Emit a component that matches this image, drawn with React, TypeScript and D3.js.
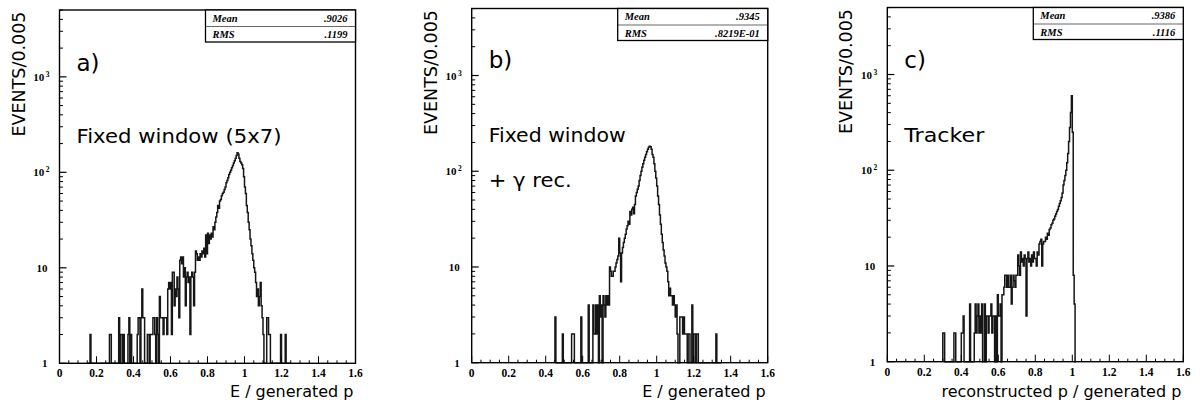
import React from "react";
import * as d3 from "d3";

const BIN = 0.005;
const xTickValues = [0, 0.2, 0.4, 0.6, 0.8, 1, 1.2, 1.4, 1.6];
const xTickLabels = ["0", "0.2", "0.4", "0.6", "0.8", "1", "1.2", "1.4", "1.6"];
const yDecades = [1, 10, 100, 1000];
const yTickBase = ["1", "10", "10", "10"];
const yTickSup = ["", "", "2", "3"];
const yMax = 5012;

// Panel a: E / generated p, fixed window (5x7), bins of 0.005 starting at 0.15
const aStart = 0.15;
const aCounts = [
  0, 0, 0, 2, 0, 0, 0, 0, 0, 0, 0, 0, 0, 0, 0, 0, 0, 0, 0, 0,
  0, 0, 0, 0, 2, 2, 0, 0, 0, 0, 0, 0, 0, 0, 3, 0, 2, 2, 0, 2,
  0, 0, 0, 0, 2, 3, 0, 2, 0, 0, 0, 0, 0, 0, 2, 3, 3, 0, 3, 6,
  3, 3, 0, 0, 0, 2, 2, 0, 2, 2, 2, 3, 3, 2, 0, 3, 2, 0, 5, 3,
  3, 3, 2, 3, 3, 3, 2, 6, 7, 6, 7, 2, 9, 9, 4, 6, 5, 8, 6, 3,
  12, 13, 11, 13, 8, 10, 4, 8, 9, 7, 8, 2, 8, 9, 8, 4, 9, 15, 14, 12,
  13, 12, 14, 13, 15, 14, 16, 13, 22, 14, 23, 18, 22, 20, 23, 21, 27, 25, 30, 34,
  38, 45, 42, 50, 52, 57, 60, 62, 66, 70, 78, 82, 88, 95, 100, 105, 112, 118, 125, 132,
  140, 150, 160, 155, 140, 130, 125, 120, 110, 90, 70, 60, 45, 38, 30, 25, 20, 17, 14, 12,
  10, 9, 7, 5, 6, 4, 5, 7, 4, 3, 2, 0, 1, 1, 3, 3, 2, 2, 0, 0,
  0, 0, 0, 0, 0, 0, 0, 0, 0, 2, 0, 0, 0, 0, 2, 0, 0, 0, 0, 0,
];

// Panel b: fixed window + gamma reconstruction, starting at 0.45
const bStart = 0.45;
const bCounts = [
  3, 0, 0, 0, 0, 0, 0, 0, 2, 0, 0, 0, 0, 0, 0, 0, 0, 0, 2, 2,
  2, 0, 0, 0, 0, 0, 0, 0, 3, 0, 0, 0, 0, 0, 0, 0, 4, 0, 0, 0,
  0, 4, 2, 2, 4, 2, 4, 0, 5, 3, 4, 0, 5, 4, 3, 5, 4, 5, 4, 10,
  9, 8, 8, 9, 9, 10, 11, 12, 13, 20, 14, 7, 14, 16, 18, 20, 22, 25, 27, 30,
  28, 38, 35, 40, 42, 36, 45, 55, 60, 65, 70, 80, 90, 100, 110, 120, 130, 140, 150, 160,
  170, 178, 182, 180, 170, 150, 140, 120, 100, 85, 70, 55, 45, 35, 28, 22, 18, 15, 13, 11,
  10, 9, 7, 5, 6, 5, 5, 4, 5, 4, 3, 4, 2, 1, 0, 3, 3, 3, 2, 3,
  2, 2, 2, 0, 2, 2, 0, 0, 4, 0, 2, 2, 0, 2, 2, 0, 0, 0, 0, 0,
  0, 0, 0, 0, 0, 0, 0, 0, 0, 0, 0, 0, 0, 0, 2, 0, 0, 0, 0, 0,
];

// Panel c: tracker, reconstructed p / generated p, starting at 0.30
const cStart = 0.3;
const cCounts = [
  2, 2, 0, 0, 0, 0, 0, 0, 0, 0, 0, 0, 2, 2, 0, 0, 0, 0, 0, 0,
  2, 2, 3, 0, 0, 0, 0, 0, 0, 4, 0, 0, 0, 0, 2, 4, 2, 3, 4, 2,
  3, 2, 4, 0, 0, 4, 0, 3, 3, 2, 3, 3, 4, 2, 3, 3, 0, 3, 0, 5,
  3, 3, 4, 0, 5, 5, 6, 8, 8, 6, 8, 6, 6, 8, 4, 6, 8, 7, 6, 8,
  8, 13, 10, 8, 14, 11, 12, 10, 13, 12, 3, 12, 14, 11, 12, 10, 13, 11, 14, 12,
  12, 10, 14, 13, 17, 18, 19, 10, 17, 18, 18, 20, 19, 22, 21, 24, 25, 27, 28, 30,
  31, 33, 35, 37, 39, 42, 45, 48, 52, 58, 70, 78, 88, 100, 120, 150, 200, 280, 400, 600,
  250, 8, 4, 0,
];

const panelStarts = [aStart, bStart, cStart];
const panelCounts = [aCounts, bCounts, cCounts];
const panelTags = ["a)", "b)", "c)"];
const panelNotes = [["Fixed window (5x7)"], ["Fixed window", "+ \u03b3 rec."], ["Tracker"]];
const xAxisTitles = ["E / generated p", "E / generated p", "reconstructed p / generated p"];
const yAxisTitle = "EVENTS/0.005";
const statMeans = [".9026", ".9345", ".9386"];
const statRms = [".1199", ".8219E-01", ".1116"];

// layout
const layouts = [
  { x0: 59.5, top: 10, bottom: 363.3, noteW: [205], tagY: 71 },
  { x0: 471.7, top: 8.5, bottom: 362.7, noteW: [137, 83], tagY: 68 },
  { x0: 887.3, top: 7.5, bottom: 361.7, noteW: [80], tagY: 68 },
];
const noteYs = [[143.3], [141.7, 186.7], [141.7]];
const PW = 296;

const serif = "'Liberation Serif', 'DejaVu Serif', serif";
const sans = "'DejaVu Sans', sans-serif";

function Panel({ idx }: { idx: number }) {
  const L = layouts[idx];
  const xs = d3.scaleLinear().domain([0, 1.6]).range([L.x0, L.x0 + PW]);
  const ys = d3.scaleLog().domain([1, yMax]).range([L.bottom, L.top]);
  const start = panelStarts[idx];
  const counts = panelCounts[idx];
  const pts: { x: number; v: number }[] = [{ x: start, v: 0 }];
  counts.forEach((v, i) => pts.push({ x: start + i * BIN, v }));
  pts.push({ x: start + counts.length * BIN, v: 0 });
  const line = d3
    .line<{ x: number; v: number }>()
    .x((d) => xs(d.x))
    .y((d) => ys(Math.max(d.v, 1)))
    .curve(d3.curveStepAfter);

  const minorX = d3.range(0, 1.6001, 0.05);
  const minorY: number[] = [];
  yDecades.forEach((d) => {
    for (let k = 2; k <= 9; k++) if (d * k <= yMax) minorY.push(d * k);
  });

  const boxL = L.x0 + 146;
  const boxR = L.x0 + PW;
  const boxT = L.top;
  const boxB = L.top + 32;

  return (
    <g>
      {/* histogram */}
      <path d={line(pts) || ""} fill="none" stroke="#161616" strokeWidth={1.5} />
      {/* frame */}
      <rect x={L.x0} y={L.top} width={PW} height={L.bottom - L.top} fill="none" stroke="#000" strokeWidth={1.4} />
      {/* x ticks */}
      {minorX.map((t, i) => {
        const major = Math.abs(t / 0.2 - Math.round(t / 0.2)) < 1e-6;
        return (
          <line key={"xm" + i} x1={xs(t)} x2={xs(t)} y1={L.bottom} y2={L.bottom - (major ? 7 : 3)} stroke="#000" strokeWidth={1} />
        );
      })}
      {xTickValues.map((t, i) => (
        <text key={"xl" + i} x={xs(t)} y={L.bottom + 14} textAnchor="middle" fontFamily={serif} fontWeight="bold" fontSize={11.5}>
          {xTickLabels[i]}
        </text>
      ))}
      {/* y ticks */}
      {minorY.map((t, i) => (
        <line key={"ym" + i} x1={L.x0} x2={L.x0 + 3.5} y1={ys(t)} y2={ys(t)} stroke="#000" strokeWidth={1} />
      ))}
      {yDecades.map((t, i) => (
        <g key={"yd" + i}>
          <line x1={L.x0} x2={L.x0 + 7} y1={ys(t)} y2={ys(t)} stroke="#000" strokeWidth={1.2} />
          <text x={L.x0 - (yTickSup[i] ? 10 : 12)} y={ys(t) + 4} textAnchor="end" fontFamily={serif} fontWeight="bold" fontSize={11}>
            {yTickBase[i]}
            {yTickSup[i] ? (
              <tspan dx={1.5} dy={-4} fontSize={7.5}>
                {yTickSup[i]}
              </tspan>
            ) : null}
          </text>
        </g>
      ))}
      {/* stats box */}
      <rect x={boxL} y={boxT} width={boxR - boxL} height={boxB - boxT} fill="#fff" stroke="#000" strokeWidth={1.3} />
      <line x1={boxL} x2={boxR} y1={boxT + 16.5} y2={boxT + 16.5} stroke="#000" strokeWidth={0.6} />
      <text x={boxL + 7} y={boxT + 11.5} fontFamily={serif} fontStyle="italic" fontWeight="bold" fontSize={10.5}>
        Mean
      </text>
      <text x={boxR - 8} y={boxT + 11.5} textAnchor="end" fontFamily={serif} fontStyle="italic" fontWeight="bold" fontSize={10.5}>
        {statMeans[idx]}
      </text>
      <text x={boxL + 7} y={boxT + 28} fontFamily={serif} fontStyle="italic" fontWeight="bold" fontSize={10.5}>
        RMS
      </text>
      <text x={boxR - 8} y={boxT + 28} textAnchor="end" fontFamily={serif} fontStyle="italic" fontWeight="bold" fontSize={10.5}>
        {statRms[idx]}
      </text>
      {/* panel tag */}
      <text x={L.x0 + 17} y={L.tagY} fontFamily={sans} fontSize={23}>
        {panelTags[idx]}
      </text>
      {panelNotes[idx].map((n, i) => (
        <text
          key={"n" + i}
          x={L.x0 + 17}
          y={noteYs[idx][i]}
          fontFamily={sans}
          fontSize={19}
          textLength={L.noteW[i]}
          lengthAdjust="spacingAndGlyphs"
        >
          {n}
        </text>
      ))}
      {/* axis titles */}
      <text x={L.x0 + 294} y={397} textAnchor="end" fontFamily={sans} fontSize={16}>
        {xAxisTitles[idx]}
      </text>
      <text
        transform={`translate(${L.x0 - 35},${L.top + 64}) rotate(-90)`}
        textAnchor="middle"
        fontFamily={sans}
        fontSize={17.5}
        textLength={125}
        lengthAdjust="spacingAndGlyphs"
      >
        {yAxisTitle}
      </text>
    </g>
  );
}

export default function App() {
  return (
    <svg width={1200} height={417} style={{ position: "absolute", left: 0, top: 0, background: "#fff" }}>
      <rect x={0} y={0} width={1200} height={417} fill="#fff" />
      {[0, 1, 2].map((i) => (
        <Panel key={i} idx={i} />
      ))}
    </svg>
  );
}
